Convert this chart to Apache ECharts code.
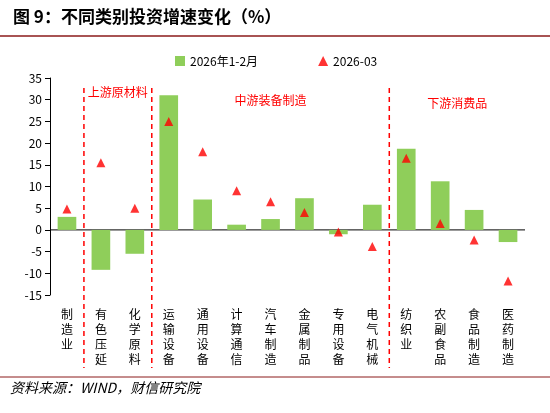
<!DOCTYPE html>
<html><head><meta charset="utf-8">
<script src="https://cdn.jsdelivr.net/npm/echarts@6/dist/echarts.min.js"></script>
<style>body{margin:0}#c{width:550px;height:413px}</style></head>
<body><div id="c"></div>
<script>
var categories = ['制造业','有色压延','化学原料','运输设备','通用设备','计算通信','汽车制造','金属制品','专用设备','电气机械','纺织业','农副食品','食品制造','医药制造'];
var janFeb = [3.0, -9.2, -5.5, 31.0, 7.0, 1.2, 2.5, 7.3, -1.0, 5.8, 18.7, 11.2, 4.6, -2.8];
var march = [4.8, 15.5, 5.0, 25.0, 18.0, 9.0, 6.5, 4.0, -0.5, -3.8, 16.5, 1.5, -2.3, -11.8];
var groupLabels = ['上游原材料','中游装备制造','下游消费品'];

var chart = echarts.init(document.getElementById('c'));
var font = '"Noto Sans CJK SC", sans-serif';
chart.setOption({
    animation:false,
    textStyle:{fontFamily:font},
    title:{text:'图 9：不同类别投资增速变化（%）',left:8,top:3,textStyle:{fontSize:17,fontWeight:'bold',color:'#000',fontFamily:font}},
    legend:{top:50,left:170,itemGap:60,itemWidth:10,itemHeight:10,textStyle:{fontSize:12,color:'#000'},
        data:[{name:'2026年1-2月',icon:'rect'},{name:'2026-03',icon:'triangle'}]},
    grid:{left:50,right:25,top:78,bottom:118},
    xAxis:{type:'category',data:categories,
        axisLine:{onZero:false,show:false},axisTick:{show:false},
        axisLabel:{interval:0,fontSize:12,color:'#000',lineHeight:15,margin:12,
            formatter:function(v){return v.split('').join('\n');}}},
    yAxis:{type:'value',min:-15,max:35,interval:5,
        axisLine:{show:true,lineStyle:{color:'#000'}},axisTick:{show:true,lineStyle:{color:'#000'}},
        splitLine:{show:false},axisLabel:{fontSize:12,color:'#000'}},
    series:[
        {name:'2026年1-2月',type:'bar',data:janFeb,barWidth:'55%',itemStyle:{color:'#8fce5a'}},
        {name:'2026-03',type:'scatter',data:march,symbol:'triangle',symbolSize:9,itemStyle:{color:'#ff0000'}}
    ]
});

// group dividers and labels
var zeroY = chart.convertToPixel({yAxisIndex:0},0);
var divs = [0.5, 2.5, 9.5];
var g = [
    {type:'line',shape:{x1:0,y1:36,x2:550,y2:36},style:{stroke:'#8b1a1a',lineWidth:1.5}},
    {type:'line',shape:{x1:0,y1:377,x2:550,y2:377},style:{stroke:'#8b1a1a',lineWidth:1}},
    {type:'text',left:10,top:381,style:{text:'资料来源：WIND，财信研究院',font:'italic 14px '+font,fill:'#000'}},
    {type:'line',shape:{x1:50,y1:zeroY,x2:525,y2:zeroY},style:{stroke:'#000',lineWidth:1}}
];
var x0 = chart.convertToPixel({xAxisIndex:0},0), x1 = chart.convertToPixel({xAxisIndex:0},1);
var step = x1 - x0;
divs.forEach(function(d){
    var x = x0 + d*step;
    g.push({type:'line',shape:{x1:x,y1:88,x2:x,y2:368},style:{stroke:'#ff0000',lineWidth:1.5,lineDash:[5,4]}});
});
var labPos = [[x0+1.5*step,92],[x0+6*step,100],[x0+11.5*step,103]];
groupLabels.forEach(function(t,i){
    g.push({type:'text',x:labPos[i][0],y:labPos[i][1],style:{text:t,font:'12px '+font,fill:'#ff0000',align:'center',verticalAlign:'middle'}});
});
chart.setOption({graphic:g});
</script></body></html>
